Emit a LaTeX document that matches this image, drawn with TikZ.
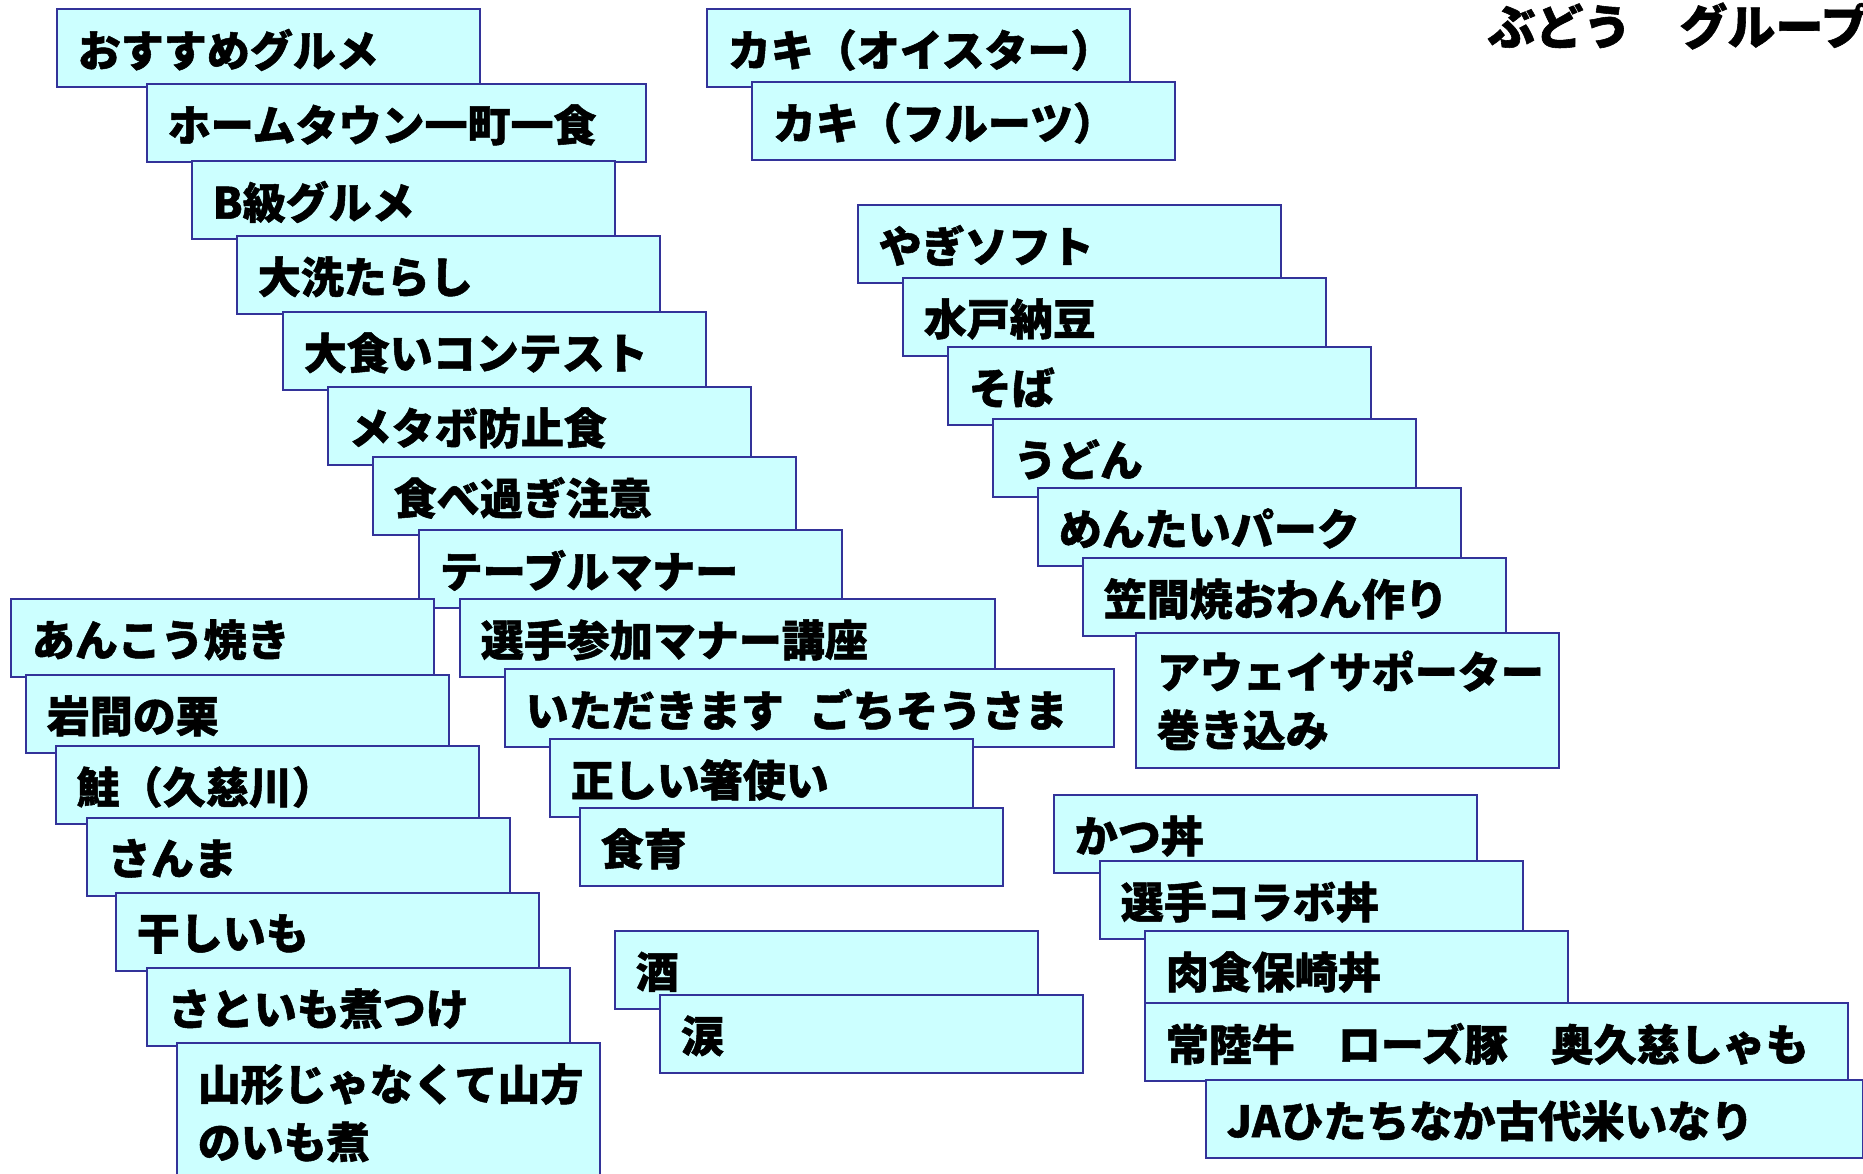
\documentclass[tikz,border=0pt]{standalone}
\usepackage{fontspec}
\newfontfamily\jpfont{Noto Sans CJK JP}[BoldFeatures={FakeBold=1.2}]
\usepackage{tikz}
\definecolor{boxfill}{RGB}{204,255,255}
\definecolor{boxline}{RGB}{51,51,153}

\begin{document}
\begin{tikzpicture}[x=0.5pt, y=-0.5pt]
% -------------------------------------------------
\tikzset{
  base/.style={draw=boxline, fill=boxfill, line width=0.8pt, anchor=north west,
    align=left, inner xsep=10.5pt, inner ysep=8pt, text width=190.5pt,
    font=\jpfont\bfseries\fontsize{21.5}{29}\selectfont},
  box/.style={base, minimum height=39pt, text depth=0pt},
  tallbox/.style={base, minimum height=#1},
  title/.style={anchor=west, inner sep=0pt, font=\jpfont\bfseries\fontsize{24}{28}\selectfont}
}
% -------------------------------------------------
\useasboundingbox (0,0) rectangle (1863,1173);
\clip (0,0) rectangle (1863,1173);
\fill [white] (0,0) rectangle (1863,1173);

\node [title] (grp) at (1487,26) {ぶどう　グループ};

% Placing the nodes
\node [box] (osusume) at (56,8) {おすすめグルメ};
\node [box, text width=228.5pt] (hometown) at (146,83) {ホームタウン一町一食};
\node [box] (bkyu) at (191,160) {B級グルメ};
\node [box] (oarai) at (236,235) {大洗たらし};
\node [box] (oogui) at (282,311) {大食いコンテスト};
\node [box] (metabo) at (327,386) {メタボ防止食};
\node [box] (tabesugi) at (372,456) {食べ過ぎ注意};
\node [box] (table) at (418,529) {テーブルマナー};
\node [box, text width=246.5pt] (manner) at (459,598) {選手参加マナー講座};
\node [box, text width=283.5pt] (itadaki) at (504,668) {いただきます\hspace{0.6em}ごちそうさま};
\node [box] (hashi) at (549,738) {正しい箸使い};
\node [box] (shokuiku) at (579,807) {食育};

\node [box] (ankou) at (10,598) {あんこう焼き};
\node [box] (kuri) at (25,674) {岩間の栗};
\node [box] (shake) at (55,745) {鮭（久慈川）};
\node [box] (sanma) at (86,817) {さんま};
\node [box] (hoshiimo) at (115,892) {干しいも};
\node [box] (satoimo) at (146,967) {さといも煮つけ};
\node [tallbox=70pt] (imoni) at (176,1042) {山形じゃなくて山方\\のいも煮};

\node [box] (sake) at (614,930) {酒};
\node [box] (namida) at (659,994) {涙};

\node [box] (oyster) at (706,8) {カキ（オイスター）};
\node [box] (fruit) at (751,81) {カキ（フルーツ）};

\node [box] (yagi) at (857,204) {やぎソフト};
\node [box] (natto) at (902,277) {水戸納豆};
\node [box] (soba) at (947,346) {そば};
\node [box] (udon) at (992,418) {うどん};
\node [box] (mentai) at (1037,487) {めんたいパーク};
\node [box] (kasama) at (1082,557) {笠間焼おわん作り};
\node [tallbox=67.5pt] (away) at (1135,632) {アウェイサポーター\\巻き込み};

\node [box] (katsu) at (1053,794) {かつ丼};
\node [box] (collab) at (1099,860) {選手コラボ丼};
\node [box] (nikushoku) at (1144,930) {肉食保崎丼};
\node [box, text width=330.5pt] (hitachi) at (1144,1002) {常陸牛　ローズ豚　奥久慈しゃも};
\node [box, text width=307.5pt] (kodaimai) at (1205,1079) {JAひたちなか古代米いなり};

\end{tikzpicture}
\end{document}
